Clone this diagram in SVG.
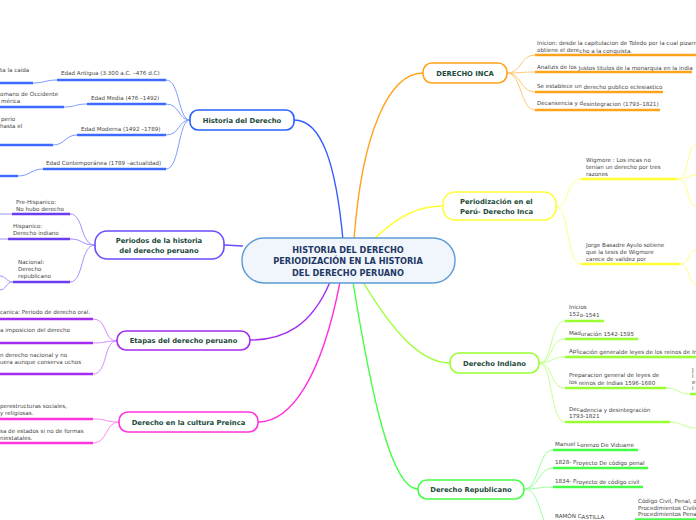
<svg xmlns="http://www.w3.org/2000/svg" width="696" height="520" viewBox="0 0 696 520">
<style>
.bg{fill:#ffffff}
.t{font-family:"DejaVu Sans","Liberation Sans",sans-serif;font-size:5.6px;fill:#444444}
.n{font-family:"DejaVu Sans","Liberation Sans",sans-serif;font-size:6.8px;font-weight:bold;fill:#1b4a3b}
.c{font-family:"DejaVu Sans","Liberation Sans",sans-serif;font-size:8.2px;font-weight:bold;fill:#1f3864;text-anchor:middle}
.mid{text-anchor:middle}
.box{fill:#ffffff;stroke-width:1.6}
.con{fill:none;stroke-width:1}
.ul{fill:none;stroke-width:2.4}
.main{fill:none;stroke-width:1.4}
</style>
<rect class="bg" x="0" y="0" width="696" height="520"/>

<g id="connectors">
  <path class="main" stroke="#2f5bff" d="M343,240 C336,165 322,120 294,120"/>
  <path class="main" stroke="#ffa31a" d="M354,240 C362,130 390,73 423,73"/>
  <path class="main" stroke="#ffff33" d="M373,240 C400,214 420,206 443,206"/>
  <path class="main" stroke="#6b4cff" d="M224,245 L243,246"/>
  <path class="main" stroke="#a32cf0" d="M330,282 C312,325 285,340 250,340"/>
  <path class="main" stroke="#ff33dd" d="M340,282 C322,375 292,422 258,422"/>
  <path class="main" stroke="#99ff33" d="M363,282 C392,330 420,363 450,363"/>
  <path class="main" stroke="#44ff44" d="M353,282 C372,400 392,489 418,489"/>

  <g stroke="#7d9cff">
    <path class="con" d="M190,120 C178,120 180,80 166,80"/>
    <path class="con" d="M190,120 C178,120 180,104 166,104"/>
    <path class="con" d="M190,120 C178,120 180,135 166,135"/>
    <path class="con" d="M190,120 C178,120 180,169 166,169"/>
    <path class="con" d="M57,80 C45,80 45,83 33,83"/>
    <path class="con" d="M87,104 C75,104 76,107 64,107"/>
    <path class="con" d="M77,135 C65,135 65,145 53,145"/>
    <path class="con" d="M43,169 C31,169 30,176 18,176"/>
  </g>
  <g stroke="#3d6bff">
    <path class="ul" d="M57,80 H166"/>
    <path class="ul" d="M87,104 H166"/>
    <path class="ul" d="M77,135 H166"/>
    <path class="ul" d="M43,169 H166"/>
    <path class="ul" d="M0,83 H33"/>
    <path class="ul" d="M0,107 H64"/>
    <path class="ul" d="M0,145 H53"/>
    <path class="ul" d="M0,176 H18"/>
  </g>

  <g stroke="#a090ff">
    <path class="con" d="M95,245 C80,245 84,214 70,214"/>
    <path class="con" d="M95,245 C80,245 84,239 70,239"/>
    <path class="con" d="M95,245 C80,245 84,282 70,282"/>
    <path class="con" d="M12,214 H0"/>
    <path class="con" d="M8,239 H0"/>
    <path class="con" d="M13,282 C6,282 6,276 0,276"/>
    <path class="con" d="M13,282 C6,282 6,290 0,290"/>
  </g>
  <g stroke="#6b3df0">
    <path class="ul" d="M12,214 H70"/>
    <path class="ul" d="M8,239 H70"/>
    <path class="ul" d="M13,282 H70"/>
  </g>

  <g stroke="#cf8cff">
    <path class="con" d="M117,341 C103,341 108,319 93,319"/>
    <path class="con" d="M117,341 C103,341 108,343 93,343"/>
    <path class="con" d="M117,341 C103,341 108,374 93,374"/>
  </g>
  <g stroke="#a32cf0">
    <path class="ul" d="M0,319 H93"/>
    <path class="ul" d="M0,343 H93"/>
    <path class="ul" d="M0,374 H93"/>
  </g>

  <g stroke="#ff88ee">
    <path class="con" d="M119,422 C105,422 108,419 93,419"/>
    <path class="con" d="M119,422 C105,422 108,443 93,443"/>
  </g>
  <g stroke="#ff33dd">
    <path class="ul" d="M0,419 H93"/>
    <path class="ul" d="M0,443 H93"/>
  </g>

  <g stroke="#ffc875">
    <path class="con" d="M507,73 C522,73 520,55 535,55"/>
    <path class="con" d="M507,73 C522,73 520,72 535,72"/>
    <path class="con" d="M507,73 C522,73 520,92 535,92"/>
    <path class="con" d="M507,73 C522,73 520,110 535,110"/>
  </g>
  <g stroke="#ffa31a">
    <path class="ul" d="M535,55 H696"/>
    <path class="ul" d="M535,72 H692"/>
    <path class="ul" d="M535,92 H663"/>
    <path class="ul" d="M535,110 H660"/>
  </g>

  <g stroke="#ffff88">
    <path class="con" d="M556,207 C570,207 566,179 581,179"/>
    <path class="con" d="M556,207 C570,207 566,264 581,264"/>
    <path class="con" d="M677,179 C690,179 686,145 696,145"/>
    <path class="con" d="M677,179 C688,179 688,175 696,175"/>
    <path class="con" d="M677,179 C690,179 686,206 696,206"/>
    <path class="con" d="M680,264 C690,264 688,250 696,250"/>
    <path class="con" d="M680,264 C690,264 688,284 696,284"/>
  </g>
  <g stroke="#ffff33">
    <path class="ul" d="M581,179 H677"/>
    <path class="ul" d="M581,264 H680"/>
  </g>

  <g stroke="#c6ff8c">
    <path class="con" d="M539,363 C553,363 550,321 565,321"/>
    <path class="con" d="M539,363 C553,363 550,339 565,339"/>
    <path class="con" d="M539,363 C553,363 550,357 565,357"/>
    <path class="con" d="M539,363 C553,363 550,388 565,388"/>
    <path class="con" d="M539,363 C553,363 550,422 565,422"/>
    <path class="con" d="M666,388 C678,388 678,394 690,394"/>
    <path class="con" d="M670,422 C682,422 684,428 696,428"/>
  </g>
  <g stroke="#99ff33">
    <path class="ul" d="M565,321 H604"/>
    <path class="ul" d="M565,339 H638"/>
    <path class="ul" d="M565,357 H696"/>
    <path class="ul" d="M565,388 H666"/>
    <path class="ul" d="M565,422 H670"/>
    <path class="ul" d="M690,394 H696"/>
  </g>

  <g stroke="#99ff99">
    <path class="con" d="M524,489 C539,489 538,450 553,450"/>
    <path class="con" d="M524,489 C539,489 538,468 553,468"/>
    <path class="con" d="M524,489 C539,489 538,487 553,487"/>
    <path class="con" d="M524,489 C536,489 538,505 544,520"/>
  </g>
  <g stroke="#44ff44">
    <path class="ul" d="M553,450 H638"/>
    <path class="ul" d="M553,468 H648"/>
    <path class="ul" d="M553,487 H643"/>
    <path class="ul" d="M635,519.5 H696"/>
  </g>
</g>

<g id="central">
  <rect x="242" y="238" width="213" height="45" rx="22" fill="#f0f6fc" stroke="#5b9bd5" stroke-width="1.4"/>
  <text class="c" x="348" y="252.5">HISTORIA DEL DERECHO</text>
  <text class="c" x="348" y="264">PERIODIZACIÓN EN LA HISTORIA</text>
  <text class="c" x="348" y="275.5">DEL DERECHO PERUANO</text>
</g>

<g id="historia">
  <rect class="box" x="190" y="110" width="104" height="20" rx="8" stroke="#2962ff"/>
  <text class="n mid" x="242" y="122.5">Historia del Derecho</text>
  <text class="t" x="61" y="75">Edad Antigua (3.300 a.C. –476 d.C)</text>
  <text class="t" x="91" y="100">Edad Media (476 –1492)</text>
  <text class="t" x="81" y="131">Edad Moderna (1492 –1789)</text>
  <text class="t" x="46" y="165">Edad Contemporánea (1789 –actualidad)</text>
  <text class="t" x="0" y="72">ta la caída</text>
  <text class="t" x="0" y="96">omano de Occidente</text>
  <text class="t" x="1" y="103">mérica</text>
  <text class="t" x="1" y="121">perio</text>
  <text class="t" x="0" y="128"> hasta el</text>
</g>

<g id="periodos">
  <rect class="box" x="95" y="231" width="129" height="28" rx="12" stroke="#6b4cff"/>
  <text class="n mid" x="159" y="243">Periodos de la historia</text>
  <text class="n mid" x="159" y="252.5">del derecho peruano</text>
  <text class="t" x="16" y="204">Pre-Hispanico:</text>
  <text class="t" x="16" y="211">No hubo derecho</text>
  <text class="t" x="13" y="228">Hispanico:</text>
  <text class="t" x="13" y="235">Derecho indiano</text>
  <text class="t" x="18" y="264">Nacional:</text>
  <text class="t" x="18" y="271">Derecho</text>
  <text class="t" x="18" y="278">republicano</text>
</g>

<g id="etapas">
  <rect class="box" x="117" y="331" width="133" height="19" rx="9" stroke="#a32cf0"/>
  <text class="n mid" x="183.5" y="343">Etapas del derecho peruano</text>
  <text class="t" x="0" y="314">canica: Periodo de derecho oral.</text>
  <text class="t" x="0" y="332">a imposicion del derecho</text>
  <text class="t" x="0" y="357">n derecho nacional y no</text>
  <text class="t" x="0" y="364">uera aunque conserva uchos</text>
</g>

<g id="preinca">
  <rect class="box" x="119" y="412" width="139" height="20" rx="9" stroke="#ff33dd"/>
  <text class="n mid" x="188.5" y="424.5">Derecho en la cultura Preinca</text>
  <text class="t" x="0" y="408">perestructuras sociales,</text>
  <text class="t" x="0" y="415">y religiosas.</text>
  <text class="t" x="0" y="433">sa de estados si no de formas</text>
  <text class="t" x="0" y="440">niestatales.</text>
</g>

<g id="inca">
  <rect class="box" x="423" y="63" width="84" height="20" rx="9" stroke="#ffa31a"/>
  <text class="n mid" x="465" y="75.5">DERECHO INCA</text>
  <text class="t" x="537" y="45">Inicion: desde la capitulacion de Toledo por la cual pizarro</text>
  <text class="t" x="537" y="52">obtiene el dere<tspan dy="0.6">cho a la conquista.</tspan></text>
  <text class="t" x="537" y="69">Analizis de los <tspan dy="0.8">Justos titulos de la monarquia en la india</tspan></text>
  <text class="t" x="537" y="88">Se establece un <tspan dy="0.8">derecho publico eclesiastico</tspan></text>
  <text class="t" x="537" y="105">Decansencia y d<tspan dy="0.8">esintegracion (1793–1821)</tspan></text>
</g>

<g id="periodizacion">
  <rect class="box" x="443" y="192" width="113" height="28" rx="12" stroke="#ffff33"/>
  <text class="n" x="460" y="204">Periodización en el</text>
  <text class="n" x="460" y="213.5">Perú- Derecho Inca</text>
  <text class="t" x="586" y="162">Wigmore : Los incas no</text>
  <text class="t" x="586" y="169">tenían un derecho por tres</text>
  <text class="t" x="586" y="176">razones</text>
  <text class="t" x="586" y="247">Jorge Basadre Ayulo sotiene</text>
  <text class="t" x="586" y="254">que la tesis de Wigmore</text>
  <text class="t" x="586" y="261">carece de validez por</text>
</g>

<g id="indiano">
  <rect class="box" x="450" y="353" width="89" height="20" rx="9" stroke="#99ff33"/>
  <text class="n mid" x="494.5" y="365.5">Derecho Indiano</text>
  <text class="t" x="569" y="309">Inicios</text>
  <text class="t" x="569" y="316">152<tspan dy="0.6">o-1541</tspan></text>
  <text class="t" x="569" y="335">Mad<tspan dy="0.8">uración 1542-1595</tspan></text>
  <text class="t" x="569" y="353">Apl<tspan dy="0.8">icación generalde leyes de los reinos de Ind</tspan></text>
  <text class="t" x="569" y="377">Preparacion  general de leyes de</text>
  <text class="t" x="569" y="384">los <tspan dy="0.6">reinos de Indias 1596-1680</tspan></text>
  <text class="t" x="569" y="411">Dec<tspan dy="0.8">adencia y desintegración</tspan></text>
  <text class="t" x="569" y="418">1793-1821</text>
  <text class="t" x="692" y="372">J</text>
  <text class="t" x="692" y="378">l</text>
  <text class="t" x="692" y="384">e</text>
  <text class="t" x="692" y="390">i</text>
</g>

<g id="republicano">
  <rect class="box" x="418" y="480" width="106" height="19" rx="9" stroke="#44ff44"/>
  <text class="n mid" x="471" y="492">Derecho Republicano</text>
  <text class="t" x="555" y="446">Manuel L<tspan dy="0.8">orenzo De Viduarre</tspan></text>
  <text class="t" x="555" y="464">1828- P<tspan dy="0.8">royecto De código penal</tspan></text>
  <text class="t" x="555" y="483">1834- P<tspan dy="0.8">royecto de código civil</tspan></text>
  <text class="t" x="555" y="518">RAMÓN C<tspan dy="0.6">ASTILLA</tspan></text>
  <text class="t" x="638" y="503">Código Civil, Penal, d</text>
  <text class="t" x="638" y="510">Procedimientos Civile</text>
  <text class="t" x="638" y="516">Procedimientos Penal</text>
</g>
</svg>
